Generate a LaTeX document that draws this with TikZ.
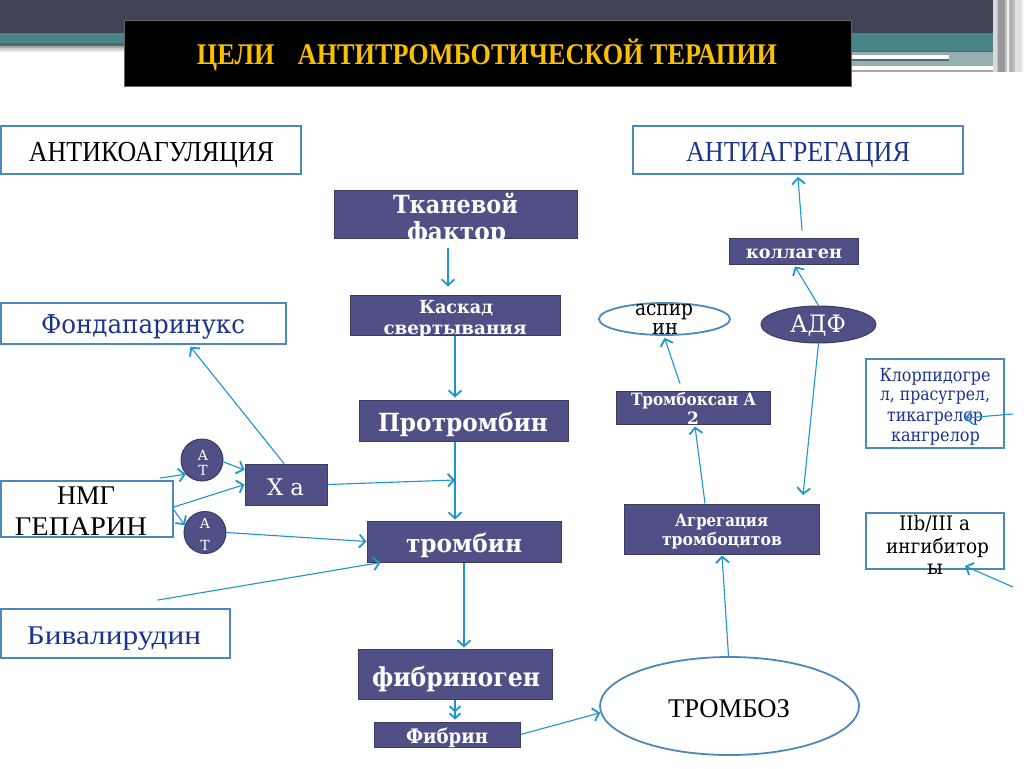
\documentclass[tikz,border=0pt]{standalone}
\usepackage{fontspec}
\usepackage{graphicx}
\setmainfont{DejaVu Serif}
\newfontfamily\lib{Liberation Serif}
\usetikzlibrary{arrows.meta,shapes.geometric,calc}

\definecolor{hdark}{RGB}{64,66,86}
\definecolor{hteal}{RGB}{72,132,136}
\definecolor{hgray}{RGB}{150,175,176}
\definecolor{hline}{RGB}{84,104,106}
\definecolor{purp}{RGB}{80,80,135}
\definecolor{pbord}{RGB}{58,58,98}
\definecolor{bord}{RGB}{78,136,186}
\definecolor{arrc}{RGB}{28,150,204}
\definecolor{dblue}{RGB}{28,52,145}
\definecolor{ttl}{RGB}{250,192,0}

\newcommand\fs[1]{\fontsize{#1}{#1}\selectfont}
\newcommand\fw[2]{\resizebox{#1pt}{\height}{#2}}

\tikzset{
 pbox/.style={draw=pbord, fill=purp, line width=1pt, inner sep=0pt},
 obox/.style={draw=bord, fill=white, line width=1.8pt, inner sep=0pt},
 tx/.style={anchor=base, inner sep=0pt, outer sep=0pt},
 wb/.style={tx, text=white, font=\bfseries},
 wr/.style={tx, text=white},
 conn/.style={draw=arrc, line width=1.1pt, -{Straight Barb[length=6pt,width=13pt,line width=1.8pt]}},
 dconn/.style={draw=arrc, line width=1.1pt, -{Straight Barb[length=5pt,width=11pt,line width=1.8pt] Straight Barb[length=5pt,width=11pt,line width=1.8pt]}},
}

\begin{document}
\begin{tikzpicture}[x=1pt,y=-1pt]
\useasboundingbox (0,0) rectangle (1024,768);
\fill[white] (0,0) rectangle (1024,768);

% header
\fill[hdark] (0,0) rectangle (1024,33);
\fill[hteal] (0,33) rectangle (1024,44);
\fill[hline] (0,43) rectangle (124,46);
\fill[black!35] (0,46) rectangle (124,48);
\fill[black!20] (0,48) rectangle (124,50);
\fill[black!10] (0,50) rectangle (124,52);
\fill[hteal] (852,44) rectangle (1005,51);
\fill[hline] (852,51) rectangle (1005,52.5);
\fill[hgray] (852,52.5) rectangle (1005,66);
\fill[white] (852,55.5) rectangle (949,59);
\fill[hline] (852,59) rectangle (949,61);
\fill[white] (852,67) rectangle (1005,70);
\fill[black!35] (852,70) rectangle (1005,72);
\fill[black!25] (993,0) rectangle (1024,72);
\fill[black!15] (993,0) rectangle (997,72);
\fill[black!40] (998,0) rectangle (1005,72);
\fill[black!5] (1007,0) rectangle (1009,72);
\fill[black!30] (1010,0) rectangle (1013,72);
\fill[black!12] (1015,0) rectangle (1022,72);
\fill[black!3] (1022,0) rectangle (1024,72);

\node[fill=black, draw=black!60, line width=0.6pt, minimum width=727pt, minimum height=66pt, inner sep=0pt] (title) at (487.5,53) {};
\node[tx, text=ttl, font=\lib\bfseries] (ttitle) at (487,64) {\fs{30}\fw{580}{ЦЕЛИ\hspace{0.9em}АНТИТРОМБОТИЧЕСКОЙ ТЕРАПИИ}};

% purple boxes
\node[pbox, minimum width=243pt, minimum height=48pt] (tk) at (455.5,214) {};
\node[pbox, minimum width=210pt, minimum height=40pt] (ks) at (455,315) {};
\node[pbox, minimum width=209pt, minimum height=41pt] (pt) at (463.5,420.5) {};
\node[pbox, minimum width=194pt, minimum height=41pt] (tr) at (464,541.5) {};
\node[pbox, minimum width=194pt, minimum height=50pt] (fg) at (455,674) {};
\node[pbox, minimum width=146pt, minimum height=25pt] (fb) at (447,734.5) {};
\node[pbox, minimum width=82pt, minimum height=41pt] (xa) at (286,484.5) {};
\node[pbox, circle, minimum size=42pt] (at1) at (202,460) {};
\node[pbox, circle, minimum size=42pt] (at2) at (205,532.5) {};
\node[pbox, minimum width=129pt, minimum height=26pt] (kol) at (793.5,251) {};
\node[pbox, ellipse, minimum width=115pt, minimum height=37pt] (adf) at (818.5,324.5) {};
\node[pbox, minimum width=154pt, minimum height=33pt] (tbx) at (693,407.5) {};
\node[pbox, minimum width=195pt, minimum height=50pt] (ag) at (721.5,529) {};

% outlined boxes
\node[obox, minimum width=300pt, minimum height=48pt] (ak) at (151,150) {};
\node[obox, minimum width=330pt, minimum height=48pt] (aa) at (798,150) {};
\node[obox, minimum width=285pt, minimum height=41pt] (fp) at (143.5,323.5) {};
\node[obox, minimum width=172pt, minimum height=56pt] (nmg) at (87,509) {};
\node[obox, minimum width=229pt, minimum height=49pt] (bv) at (115.5,633.5) {};
\node[obox, ellipse, minimum width=131pt, minimum height=32pt] (asp) at (664.5,319) {};
\node[obox, ellipse, minimum width=259pt, minimum height=98pt] (trz) at (729.5,706) {};
\node[obox, minimum width=138pt, minimum height=89pt] (klp) at (935,403.5) {};
\node[obox, minimum width=138pt, minimum height=56pt] (gp) at (935,541) {};

% texts in purple boxes
\node[wb] (t1a) at (455.5,213) {\fs{25}\fw{125}{Тканевой}};
\node[wb] (t1b) at (456.5,240) {\fs{25}\fw{99}{фактор}};
\node[wb] (t2a) at (456,313) {\fs{18}\fw{74}{Каскад}};
\node[wb] (t2b) at (455,334) {\fs{18}\fw{143}{свертывания}};
\node[wb] (t3) at (463,431) {\fs{25}\fw{170}{Протромбин}};
\node[wb] (t4) at (464,552) {\fs{25}\fw{116}{тромбин}};
\node[wb] (t5) at (456,686) {\fs{26}\fw{168}{фибриноген}};
\node[wb] (t6) at (447,743) {\fs{20}\fw{82}{Фибрин}};
\node[wr] (t7) at (285.5,495) {\fs{23}\fw{37}{X a}};
\node[wr] (t8a) at (203,460) {\fs{14}А};
\node[wr] (t8b) at (203,475) {\fs{14}Т};
\node[wr] (t9a) at (205,528) {\fs{14}А};
\node[wr] (t9b) at (205,550) {\fs{14}Т};
\node[wb] (t10) at (794,258) {\fs{18}\fw{96}{коллаген}};
\node[wr] (t11) at (818,332) {\fs{24}\fw{56}{АДФ}};
\node[wb] (t12a) at (693.5,405) {\fs{17}\fw{125}{Тромбоксан А}};
\node[wb] (t12b) at (693,424) {\fs{17}2};
\node[wb] (t13a) at (721.5,526) {\fs{17}\fw{93}{Агрегация}};
\node[wb] (t13b) at (722,545) {\fs{17}\fw{120}{тромбоцитов}};

% texts in outlined boxes
\node[tx, font=\lib] (t20) at (151.5,161) {\fs{29}\fw{245}{АНТИКОАГУЛЯЦИЯ}};
\node[tx, font=\lib, text=dblue] (t21) at (798,161) {\fs{29}\fw{224}{АНТИАГРЕГАЦИЯ}};
\node[tx, text=dblue] (t22) at (143,333) {\fs{26}\fw{204}{Фондапаринукс}};
\node[tx, font=\lib] (t23a) at (86,504) {\fs{27}\fw{58}{НМГ}};
\node[tx, font=\lib] (t23b) at (81,535) {\fs{27}\fw{132}{ГЕПАРИН}};
\node[tx, font=\lib, text=dblue] (t24) at (114,644) {\fs{27}\fw{174}{Бивалирудин}};
\node[tx, font=\lib] (t25) at (729,717) {\fs{27}\fw{122}{ТРОМБОЗ}};
\node[tx] (t26a) at (664,315) {\fs{21}\fw{58}{аспир}};
\node[tx] (t26b) at (665,334) {\fs{21}\fw{26}{ин}};
\node[tx, text=dblue] (t27a) at (935,381) {\fs{18}\fw{111}{Клорпидогре}};
\node[tx, text=dblue] (t27b) at (935,400) {\fs{18}\fw{110}{л, прасугрел,}};
\node[tx, text=dblue] (t27c) at (935,421) {\fs{18}\fw{96}{тикагрелор}};
\node[tx, text=dblue] (t27d) at (935.5,441) {\fs{18}\fw{89}{кангрелор}};
\node[tx] (t28a) at (934.5,530) {\fs{20}\fw{71}{IIb/III a}};
\node[tx] (t28b) at (937.5,553) {\fs{20}\fw{103}{ингибитор}};
\node[tx] (t28c) at (935,574) {\fs{20}ы};

% connectors
\draw[conn] ([xshift=-7.5pt,yshift=-9pt]tk.south) -- ([xshift=-7pt,yshift=8pt]ks.north);
\draw[conn] (ks.south) -- ([xshift=-8.5pt,yshift=2pt]pt.north);
\draw[conn] ([xshift=-8.5pt]pt.south) -- ([xshift=-9pt,yshift=1pt]tr.north);
\coordinate (xj) at (455,480);
\draw[conn] (xa.east) -- (xj);
\draw[conn] (tr.south) -- ([xshift=9pt,yshift=1pt]fg.north);
\draw[dconn] (fg.south) -- ([xshift=8pt,yshift=2pt]fb.north);
\draw[conn] (fb.east) -- (trz.183);
\draw[conn] ([xshift=-1pt]trz.north) -- ([xshift=0.5pt,yshift=-1pt]ag.south);
\draw[conn] ([xshift=-16.5pt]ag.north) -- ([xshift=2pt,yshift=-2pt]tbx.south);
\draw[conn] ([xshift=-13pt,yshift=7pt]tbx.north) -- ([yshift=-2pt]asp.south);
\coordinate (adfend) at (803,495);
\draw[conn] (adf.south) -- (adfend);
\draw[conn] (adf.north) -- ([xshift=1.5pt,yshift=-2pt]kol.south);
\draw[conn] ([xshift=8.5pt,yshift=7pt]kol.north) -- ([yshift=-2pt]aa.south);
\coordinate (kin) at (1013,414);
\draw[conn] (kin) -- ([xshift=30pt,yshift=-14.5pt]klp.center);
\coordinate (gin) at (1013,587);
\draw[conn] (gin) -- ([xshift=30pt,yshift=-25pt]gp.center);
\draw[conn] ([xshift=-14pt,yshift=2pt]nmg.north east) -- (at1.221);
\draw[conn] (at1.-5) -- ([yshift=14.5pt]xa.west);
\draw[conn] ([yshift=2pt]nmg.east) -- (xa.west);
\draw[conn] ([yshift=-1pt]nmg.east) -- (at2.160);
\draw[conn] (at2.east) -- (tr.west);
\draw[conn] ([xshift=42pt,yshift=8pt]bv.north) -- ([xshift=14pt]tr.south west);
\draw[conn] ([xshift=-2pt]xa.north) -- ([xshift=47pt,yshift=-2pt]fp.south);
\end{tikzpicture}
\end{document}
